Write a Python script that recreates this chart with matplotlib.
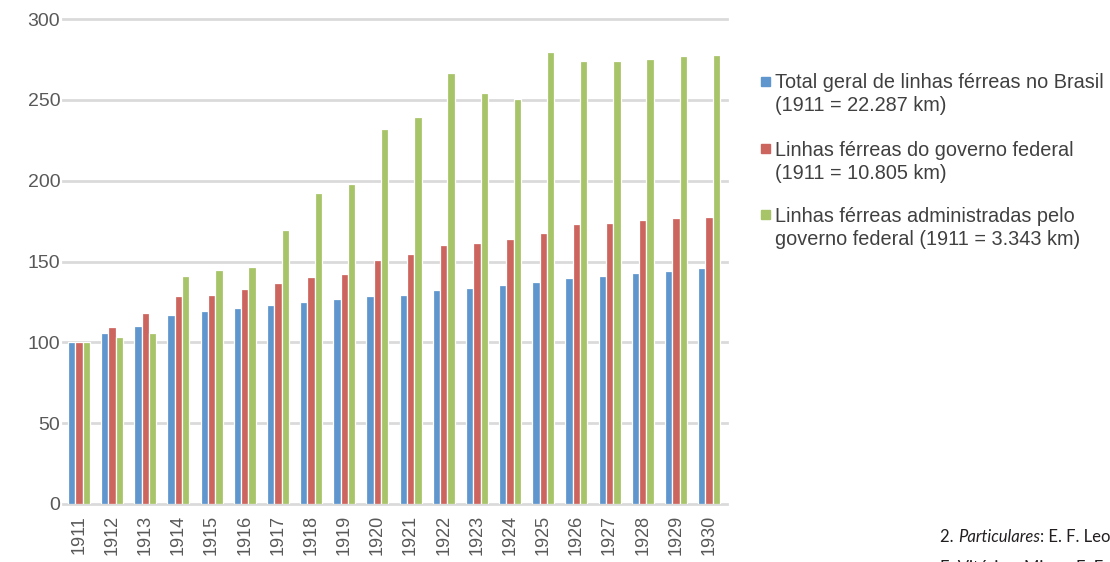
import matplotlib
matplotlib.use("Agg")
import matplotlib.pyplot as plt
import numpy as np
from matplotlib.patches import Rectangle

years = [str(y) for y in range(1911, 1931)]
total_brasil = [100, 105.6, 110, 116.7, 119.3, 121.3, 123.1, 124.9, 126.6, 128.4,
                129.3, 132.2, 133.9, 135.7, 137.5, 140.1, 141.2, 143, 143.9, 145.7]
governo_federal = [100, 109.4, 118.4, 128.4, 129.3, 133, 136.6, 140.4, 142.1, 151.2,
                   154.8, 160, 161.2, 163.8, 167.4, 172.9, 174, 175.8, 176.9, 177.8]
administradas = [100, 103, 105.6, 141.2, 145, 146.6, 169.4, 192.2, 197.7, 232.2,
                 239.5, 266.8, 254.2, 250.6, 279.6, 274.3, 274.3, 275, 277, 277.8]
series_labels = ["Total geral de linhas férreas no Brasil\n(1911 = 22.287 km)",
                 "Linhas férreas do governo federal\n(1911 = 10.805 km)",
                 "Linhas férreas administradas pelo\ngoverno federal (1911 = 3.343 km)"]
colors = ["#5F96CD", "#CD655F", "#A7C468"]
yticks = [0, 50, 100, 150, 200, 250, 300]

plt.rcParams['font.family'] = ['Liberation Sans', 'DejaVu Sans']

W, H = 1110, 562
fig = plt.figure(figsize=(W / 100, H / 100), dpi=100)
left, right, top, bottom = 63, 727, 19, 504
ax = fig.add_axes([left / W, 1 - bottom / H, (right - left) / W, (bottom - top) / H])

x = np.arange(len(years))
bw = 0.22
for i, (vals, c) in enumerate(zip([total_brasil, governo_federal, administradas], colors)):
    ax.bar(x + (i - 1) * bw, vals, width=bw, color=c, edgecolor="white", linewidth=0.9, zorder=3)

ax.set_xlim(-0.48, 19.54)
ax.set_ylim(0, 300)
ax.set_yticks(yticks)
ax.set_xticks(x)
ax.set_xticklabels(years, rotation=90)
ax.tick_params(axis="both", length=0, colors="#595959")
ax.tick_params(axis="y", pad=2, labelsize=14)
ax.tick_params(axis="x", pad=8, labelsize=13)
for s in ax.spines.values():
    s.set_visible(False)
ax.set_axisbelow(True)
ax.yaxis.grid(True, color="#DADADA", linewidth=2)
for gl in ax.get_ygridlines():
    gl.set_clip_on(False)

# legend
legend_mid = [94, 162, 228]
marker_mid = [81.5, 148.5, 214.5]
for lab, c, ym, mm in zip(series_labels, colors, legend_mid, marker_mid):
    fig.patches.append(Rectangle((761 / W, 1 - (mm + 4.5) / H), 9 / W, 9 / H,
                                 transform=fig.transFigure, color=c, figure=fig))
    fig.text(775 / W, 1 - ym / H, lab, fontsize=14.3, color="#404040", va="center",
             ha="left", linespacing=1.3)

# footnote
renderer = fig.canvas.get_renderer()
xpos = 940 / W
yb = 1 - 542 / H
parts = [("2. ", "normal"), ("Particulares", "italic"), (": E. F. Leo", "normal")]
for txt, style in parts:
    t = fig.text(xpos, yb, txt, fontsize=12, family=["Lato", "DejaVu Sans"], style=style,
                 color="#231F20", va="baseline", ha="left")
    bb = t.get_window_extent(renderer=renderer)
    xpos += bb.width / W
fig.text(940 / W, 1 - 573 / H, "E. Vitória e Minas, E. F.", fontsize=12,
         family=["Lato", "DejaVu Sans"], color="#231F20", va="baseline", ha="left")

fig.savefig("out.png", dpi=100)
